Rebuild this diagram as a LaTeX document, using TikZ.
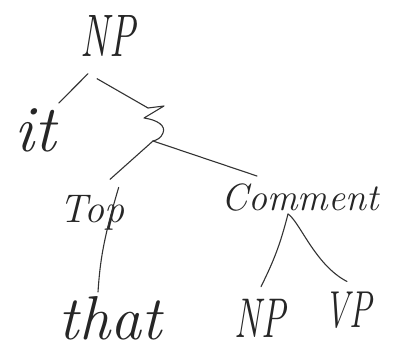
\documentclass[tikz,border=0pt]{standalone}
\begin{document}
\begin{tikzpicture}[x=1pt,y=-1pt,
  pencil/.style={draw=black!80,line width=1.1pt,line cap=round,line join=round},
  word/.style={inner sep=0pt,text=black!85},
  narrow/.style={xscale=0.65,transform shape}]
  % page
  \fill[white] (0,0) rectangle (403,352);
  \useasboundingbox (0,0) rectangle (403,352);

  % words of the tree
  \node[word,narrow] (np1) at (108,36)
    {\fontsize{60}{60}\selectfont\itshape NP};
  \node[word] (it) at (35,130)
    {\fontsize{66}{66}\selectfont\itshape it};
  \node[word] (top) at (92,213)
    {\fontsize{40}{40}\selectfont\itshape Top};
  \node[word] (that) at (110,318)
    {\fontsize{62}{62}\selectfont\itshape that};
  \node[word] (comment) at (300,198)
    {\fontsize{38}{38}\selectfont\itshape Comment};
  \node[word,narrow] (np2) at (260,318)
    {\fontsize{56}{56}\selectfont\itshape NP};
  \node[word,narrow] (vp) at (348,310)
    {\fontsize{52}{52}\selectfont\itshape VP};

  % branching squiggle under NP
  \coordinate (zt) at (148,108);
  \coordinate (z) at (153,141);
  \draw[pencil] (zt) -- (164,106) -- (144,118)
    .. controls (158,120) and (166,126) .. (163,133)
    .. controls (161,138) and (157,140) .. (z);

  % connectors
  \draw[pencil] ([xshift=-20pt,yshift=-17pt]np1.south)
    -- ([xshift=3pt,yshift=5pt]it.north east);
  \draw[pencil] ([xshift=-11pt,yshift=-22pt]np1.south) -- (zt);
  \draw[pencil] (z) -- ([xshift=-43pt,yshift=8pt]comment.north);
  \draw[pencil] (z) -- ([xshift=18pt,yshift=16pt]top.north);
  \draw[pencil] ([xshift=-6pt,yshift=8pt]top.north east)
    .. controls (103,240) and (100,262) .. ([xshift=-12pt,yshift=4pt]that.north);
  \coordinate (apex) at ([xshift=-12pt,yshift=-2pt]comment.south);
  \draw[pencil] (apex) to[bend left=6] ([xshift=1pt,yshift=12pt]np2.north);
  \draw[pencil] (apex) .. controls (300,222) and (315,265) .. ([xshift=-1pt,yshift=10pt]vp.north);
\end{tikzpicture}
\end{document}
